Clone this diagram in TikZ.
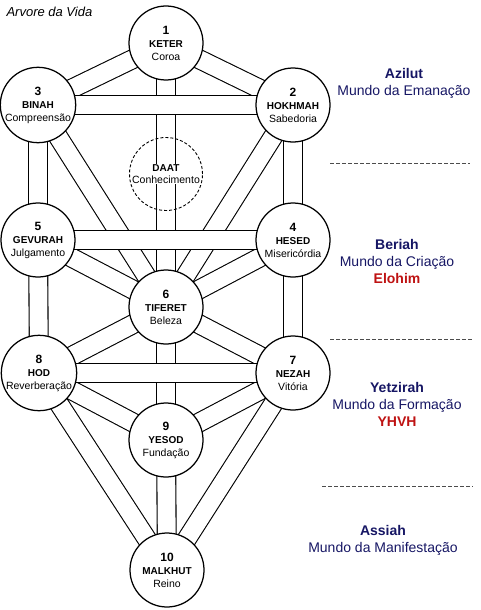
\documentclass[tikz,border=0pt]{standalone}
\usepackage{fontspec}
\setmainfont{Liberation Sans}
\usepackage{xcolor}
\usepackage{tikz}
\usetikzlibrary{backgrounds}

\definecolor{mundoazul}{RGB}{22,22,100}
\definecolor{nomevermelho}{RGB}{190,18,18}

\tikzset{
  sefira/.style={circle, draw, line width=1.25pt, fill=white, minimum size=74pt,
    inner sep=0pt, align=center, font=\fontsize{10.5}{13}\selectfont},
  oculta/.style={circle, draw, dash pattern=on 3pt off 2pt, line width=0.9pt, minimum size=73pt},
  rotulo/.style={fill=white, inner sep=0.5pt, align=center, font=\fontsize{10.5}{12.5}\selectfont},
  canal/.style={line width=1.1pt, double=white, double distance=17.8pt},
  divisa/.style={line width=0.9pt, draw=black!70, dash pattern=on 3.5pt off 2.5pt},
  mundo/.style={text=mundoazul, align=center, font=\fontsize{14}{17}\selectfont}
}

\begin{document}
\begin{tikzpicture}[x=1pt,y=-1pt]
\useasboundingbox (0,0) rectangle (480,610);

%title
\node[anchor=west, font=\fontsize{13}{15}\selectfont\itshape] (titulo) at (3,12) {Arvore da Vida};

%sefirot
\node[sefira] (keter) at (166,43) {{\fontsize{12}{13}\selectfont\bfseries 1}\\{\fontsize{10}{13}\selectfont\bfseries KETER}\\Coroa};
\node[sefira] (hokhmah) at (293,105) {{\fontsize{12}{13}\selectfont\bfseries 2}\\{\fontsize{10}{13}\selectfont\bfseries HOKHMAH}\\Sabedoria};
\node[sefira] (binah) at (38,105) {{\fontsize{12}{13}\selectfont\bfseries 3}\\{\fontsize{10}{13}\selectfont\bfseries BINAH}\\Compreensão};
\node[oculta] (daat) at (166,174) {};
\node[rotulo] (daattexto) at (daat.center) {{\fontsize{10}{12.5}\selectfont\bfseries DAAT}\\Conhecimento};
\node[sefira] (hesed) at (293,240) {{\fontsize{12}{13}\selectfont\bfseries 4}\\{\fontsize{10}{13}\selectfont\bfseries HESED}\\Misericórdia};
\node[sefira] (gevurah) at (38,240) {{\fontsize{12}{13}\selectfont\bfseries 5}\\{\fontsize{10}{13}\selectfont\bfseries GEVURAH}\\Julgamento};
\node[sefira] (tiferet) at (166,307) {{\fontsize{12}{13}\selectfont\bfseries 6}\\{\fontsize{10}{13}\selectfont\bfseries TIFERET}\\Beleza};
\node[sefira] (nezah) at (293,373) {{\fontsize{12}{13}\selectfont\bfseries 7}\\{\fontsize{10}{13}\selectfont\bfseries NEZAH}\\Vitória};
\node[sefira] (hod) at (39,373) {{\fontsize{12}{13}\selectfont\bfseries 8}\\{\fontsize{10}{13}\selectfont\bfseries HOD}\\Reverberação};
\node[sefira] (yesod) at (166,440) {{\fontsize{12}{13}\selectfont\bfseries 9}\\{\fontsize{10}{13}\selectfont\bfseries YESOD}\\Fundação};
\node[sefira] (malkhut) at (167,570) {{\fontsize{12}{13}\selectfont\bfseries 10}\\{\fontsize{10}{13}\selectfont\bfseries MALKHUT}\\Reino};

\begin{pgfonlayer}{background}
%vertical and diagonal paths
\draw[canal] (keter.center)--(hokhmah.center);
\draw[canal] (keter.center)--(binah.center);
\draw[canal] (keter.center)--(tiferet.center);
\draw[canal] (hokhmah.center)--(hesed.center);
\draw[canal] (binah.center)--(gevurah.center);
\draw[canal] (hokhmah.center)--(tiferet.center);
\draw[canal] (binah.center)--(tiferet.center);
\draw[canal] (hesed.center)--(tiferet.center);
\draw[canal] (gevurah.center)--(tiferet.center);
\draw[canal] (hesed.center)--(nezah.center);
\draw[canal] (gevurah.center)--(hod.center);
\draw[canal] (tiferet.center)--(nezah.center);
\draw[canal] (tiferet.center)--(hod.center);
\draw[canal] (tiferet.center)--(yesod.center);
\draw[canal] (nezah.center)--(yesod.center);
\draw[canal] (hod.center)--(yesod.center);
\draw[canal] (nezah.center)--(malkhut.center);
\draw[canal] (hod.center)--(malkhut.center);
\draw[canal] (yesod.center)--(malkhut.center);

%horizontal paths on top
\draw[canal] (binah.center)--(hokhmah.center);
\draw[canal] (gevurah.center)--(hesed.center);
\draw[canal] (hod.center)--(nezah.center);
\end{pgfonlayer}

%worlds
\node[mundo] (azilut) at (404,83) {\textbf{Azilut}\\Mundo da Emanação};
\node[mundo] (beriah) at (397,261) {\textbf{Beriah}\\Mundo da Criação\\\textcolor{nomevermelho}{\textbf{Elohim}}};
\node[mundo] (yetzirah) at (397,404) {\textbf{Yetzirah}\\Mundo da Formação\\\textcolor{nomevermelho}{\textbf{YHVH}}};
\node[mundo] (assiah) at (383,540) {\textbf{Assiah}\\Mundo da Manifestação};

%dividing lines
\coordinate (d1a) at (330,163);
\coordinate (d1b) at (470,163);
\coordinate (d2a) at (330,339);
\coordinate (d2b) at (472,339);
\coordinate (d3a) at (322,486);
\coordinate (d3b) at (473,486);
\draw[divisa] (d1a)--(d1b);
\draw[divisa] (d2a)--(d2b);
\draw[divisa] (d3a)--(d3b);
\end{tikzpicture}
\end{document}
